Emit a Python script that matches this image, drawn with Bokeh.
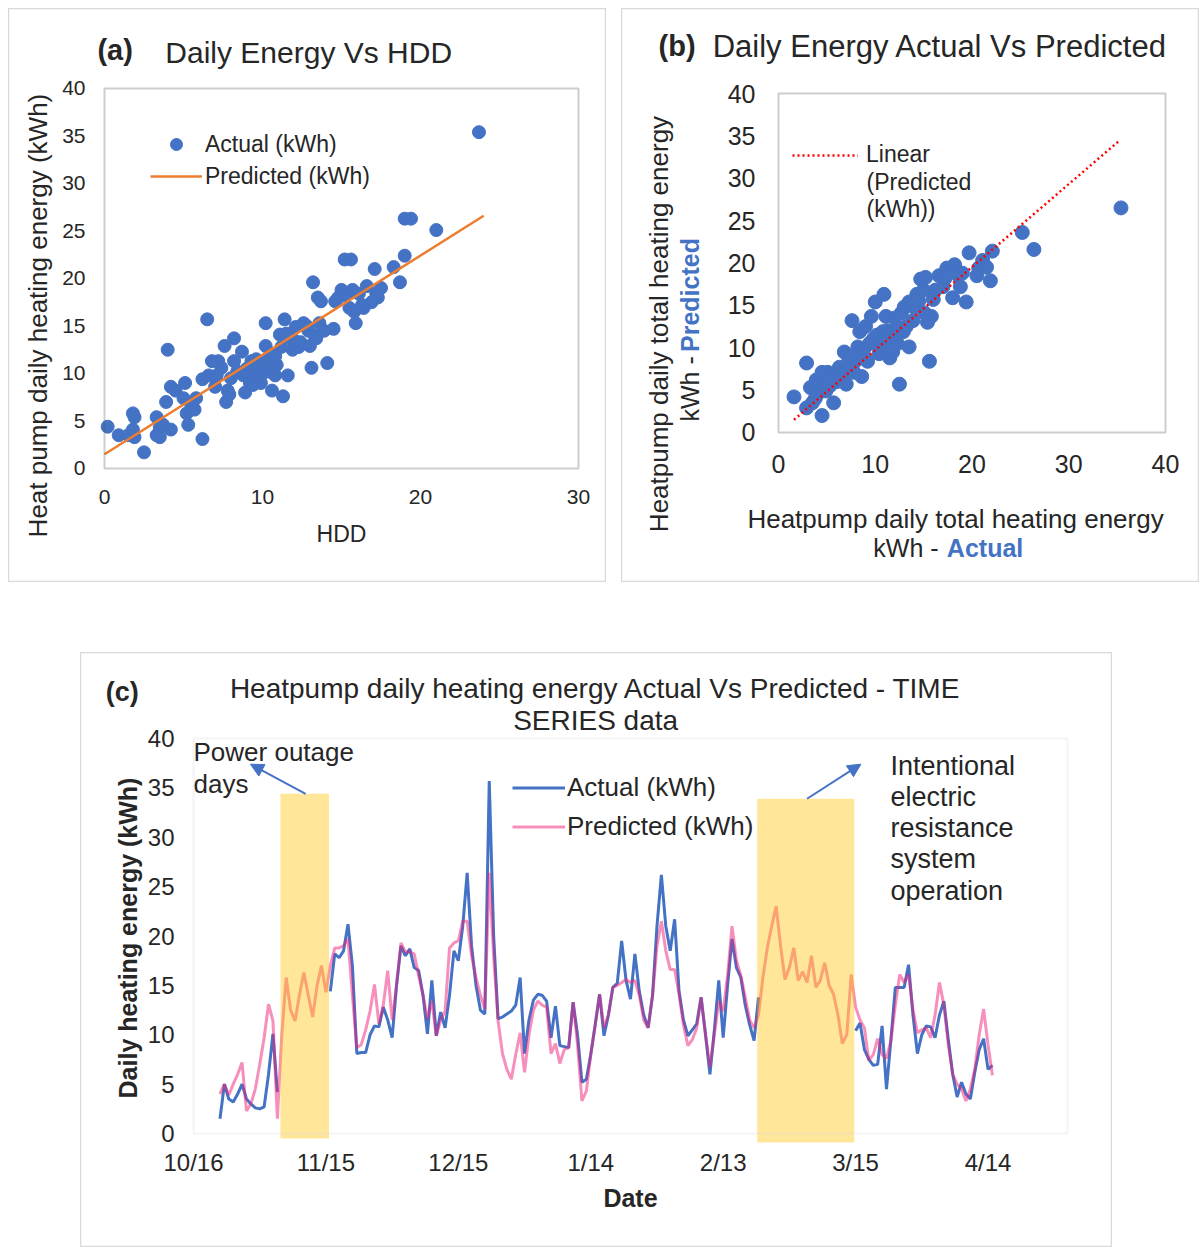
import numpy as np
import pandas as pd
from bokeh.plotting import figure
from bokeh.models import (Label, Legend, LegendItem, FixedTicker, Range1d, LinearAxis,
                          Arrow, NormalHead, Spacer, BoxAnnotation)
from bokeh.layouts import row, column
from bokeh.embed import file_html
from bokeh.resources import INLINE

FONT = "Liberation Sans"
BLUE = "#4472C4"
ORANGE = "#ED7D31"
PINK = "#F0207A"
TXT = "#262626"

# ---- (a) daily energy vs HDD ----
hdd = [0.2, 0.9, 1.5, 1.8, 1.9, 1.8, 1.9, 2.5, 3.3, 3.3,
       3.5, 3.5, 3.7, 3.9, 4.0, 4.2, 4.2, 4.5, 5.1, 5.0,
       5.2, 5.3, 5.5, 5.7, 5.8, 6.2, 6.2, 6.5, 6.6, 6.8,
       7.0, 7.1, 7.2, 7.4, 7.6, 7.7, 7.8, 7.9, 8.2, 8.2,
       8.4, 8.7, 8.8, 8.9, 9.2, 9.3, 9.5, 9.7, 9.9, 10.2,
       10.2, 10.3, 10.4, 10.5, 10.6, 10.8, 10.9, 11.1, 11.3, 11.4,
       11.6, 11.8, 11.9, 12.1, 12.4, 12.6, 12.9, 13.0, 13.1, 13.2,
       13.4, 13.5, 13.6, 13.7, 13.9, 14.1, 14.5, 14.6, 14.8, 15.0,
       15.2, 15.6, 15.5, 15.7, 15.8, 15.9, 16.1, 16.4, 16.6, 17.1,
       17.2, 17.3, 18.3, 18.7, 19.0, 19.0, 19.4, 21.0, 23.7,
       9.0, 9.6, 10.0, 10.8, 11.2, 12.0, 12.3, 8.0, 9.4, 13.3,
       16.9, 16.3, 15.3, 17.5, 11.5, 12.8]
energy_actual = [4.4, 3.5, 3.5, 4.1, 3.3, 5.8, 5.4, 1.7, 5.4, 3.5,
                 4.3, 3.3, 4.6, 7.0, 12.5, 4.1, 8.6, 8.2, 9.0, 7.4,
                 5.8, 4.6, 6.6, 6.2, 7.4, 9.4, 3.1, 15.7, 9.8, 11.3,
                 8.6, 9.8, 11.3, 10.6, 12.9, 7.0, 8.2, 7.8, 13.7, 11.3,
                 10.2, 12.3, 9.8, 8.0, 9.0, 11.3, 9.8, 10.6, 9.0, 15.3,
                 12.9, 11.3, 10.2, 12.1, 8.2, 9.8, 10.9, 14.1, 7.6, 15.7,
                 9.8, 13.7, 12.5, 14.9, 13.3, 15.3, 14.5, 12.9, 10.6, 19.6,
                 13.7, 18.0, 15.3, 17.6, 14.5, 11.1, 14.7, 17.6, 18.0, 18.8,
                 22.0, 22.0, 16.9, 18.8, 16.5, 15.3, 18.4, 16.9, 19.2, 21.0,
                 18.4, 18.0, 21.2, 19.6, 22.4, 26.3, 26.3, 25.1, 35.4,
                 10.5, 11.5, 10.0, 11.8, 12.8, 13.5, 12.8, 9.5, 8.8, 14.0,
                 17.5, 17.2, 18.2, 19.0, 14.2, 15.0]
hdd_fit = [0.0, 24.0]
energy_fit = [1.5, 26.6]

# ---- (b) actual vs predicted ----
act_b = [1.6, 2.9, 2.9, 3.3, 3.5, 3.9, 4.5, 4.5, 4.9, 5.1,
         5.7, 5.9, 6.3, 6.8, 7.0, 7.6, 7.8, 8.2, 8.4, 8.6,
         9.2, 9.6, 9.8, 10.0, 10.4, 10.8, 10.9, 11.1, 11.5, 11.7,
         12.1, 12.5, 12.7, 12.9, 13.5, 13.5, 13.9, 14.3, 14.7, 15.1,
         15.2, 15.6, 15.8, 16.0, 16.6, 17.0, 17.4, 18.0, 18.2, 18.6,
         18.8, 19.4, 19.7, 20.7, 21.1, 21.9, 22.1, 25.2, 26.4, 35.4,
         4.0, 5.3, 6.0, 7.3, 8.0, 8.8, 9.4, 10.2, 10.6, 11.3,
         12.0, 12.3, 13.0, 13.2, 14.0, 14.5, 15.0, 15.4, 16.2, 17.2,
         17.8, 19.0, 11.8, 9.0, 7.2, 6.5, 3.8, 4.3, 20.5, 21.5]
pred_b = [4.2, 8.2, 2.9, 5.3, 3.5, 6.2, 2.0, 7.1, 4.9, 7.1,
          3.5, 6.6, 7.7, 9.5, 5.7, 13.2, 7.1, 10.1, 11.9, 6.6,
          8.4, 13.7, 11.0, 15.4, 9.3, 11.9, 16.3, 13.7, 8.8, 11.0,
          12.3, 5.7, 14.1, 11.9, 10.1, 15.4, 13.2, 16.3, 18.1, 14.1,
          18.3, 8.4, 13.7, 15.7, 18.5, 17.2, 19.4, 15.9, 19.8, 18.5,
          17.2, 15.4, 21.2, 19.4, 20.3, 17.9, 21.4, 23.6, 21.6, 26.5,
          4.5, 5.5, 6.0, 7.5, 8.5, 9.8, 10.5, 11.5, 10.2, 12.0,
          13.5, 10.5, 14.8, 12.5, 14.8, 15.5, 16.8, 13.0, 16.8, 18.2,
          19.0, 18.8, 9.5, 12.5, 9.0, 6.8, 4.0, 5.8, 18.5, 19.5]
act_fit = [1.6, 35.2]
pred_fit = [1.5, 34.4]

# ---- (c) time series, one value per day from 2018-10-22 ----
nan = np.nan
actual = [1.5, 5.0, 3.5, 3.2, 4.0, 5.0, 3.5, 3.0, 2.6, 2.5,
          2.7, 6.0, 10.1, 4.2, nan, nan, nan, nan, nan, nan,
          nan, nan, nan, nan, nan, 14.4, 18.2, 17.8, 18.5, 21.2,
          17.0, 8.1, 8.2, 8.2, 10.0, 10.9, 10.8, 12.8, 11.5, 9.7,
          15.0, 19.0, 18.0, 18.7, 16.8, 16.5, 14.0, 10.1, 15.5, 9.9,
          12.3, 10.7, 14.0, 18.5, 17.5, 21.0, 26.4, 19.0, 15.0, 12.5,
          12.1, 35.7, 20.0, 11.6, 11.8, 12.1, 12.4, 13.0, 15.8, 8.1,
          11.5, 13.5, 14.1, 14.0, 13.4, 9.7, 12.9, 8.9, 8.8, 8.7,
          13.3, 10.0, 5.2, 5.5, 8.0, 11.0, 14.1, 9.9, 12.0, 14.8,
          15.2, 19.5, 15.5, 13.6, 18.2, 14.4, 12.0, 10.7, 14.0, 21.0,
          26.2, 21.0, 18.5, 21.7, 14.4, 11.5, 9.9, 10.5, 11.1, 13.8,
          10.0, 6.0, 10.5, 15.5, 9.7, 15.0, 19.7, 16.8, 15.8, 13.0,
          11.0, 9.4, 13.8, nan, nan, nan, nan, nan, nan, nan,
          nan, nan, nan, nan, nan, nan, nan, nan, nan, nan,
          nan, nan, nan, nan, 10.4, 11.2, 8.5, 7.5, 6.9, 7.0,
          10.9, 4.5, 9.5, 14.8, 14.8, 14.8, 17.1, 12.0, 8.1, 10.0,
          10.9, 10.8, 9.7, 12.0, 13.4, 9.5, 6.0, 3.7, 5.2, 4.0,
          3.5, 6.2, 8.5, 9.6, 6.5, 6.9]
predicted = [4.0, 5.0, 3.9, 5.0, 6.0, 7.2, 2.3, 3.0, 4.5, 7.0,
             9.7, 13.1, 11.4, 1.5, 10.0, 15.8, 12.5, 11.4, 14.0, 16.3,
             14.0, 11.8, 15.0, 17.0, 14.3, 17.0, 18.8, 18.8, 19.0, 19.7,
             14.0, 8.7, 9.0, 10.5, 12.4, 15.1, 11.1, 13.0, 16.5, 11.5,
             15.0, 19.3, 18.4, 18.4, 18.2, 16.0, 14.0, 11.6, 13.4, 9.9,
             11.5, 12.4, 18.8, 19.3, 19.5, 21.5, 21.5, 18.0, 15.8, 14.0,
             12.6, 26.4, 18.0, 11.4, 8.1, 6.5, 5.5, 8.0, 10.2, 6.2,
             10.0, 12.5, 13.4, 13.0, 12.8, 8.1, 9.1, 7.1, 8.5, 8.7,
             13.3, 9.0, 3.3, 4.3, 8.0, 11.0, 14.1, 10.7, 12.0, 14.8,
             15.0, 15.3, 15.6, 15.3, 15.5, 14.0, 11.5, 10.7, 14.0, 19.0,
             21.5, 18.5, 16.6, 16.6, 14.1, 11.0, 8.9, 9.5, 10.7, 13.8,
             10.0, 6.7, 10.0, 13.4, 12.4, 16.0, 21.0, 17.5, 16.0, 13.8,
             11.5, 10.7, 12.0, 15.8, 18.8, 21.0, 23.0, 19.0, 15.6, 16.8,
             18.8, 15.5, 16.4, 15.3, 18.0, 14.8, 15.5, 17.3, 15.0, 14.1,
             12.0, 9.1, 10.0, 16.1, 12.8, 11.5, 10.7, 7.4, 8.0, 9.6,
             8.0, 7.6, 9.4, 13.0, 16.1, 15.3, 16.1, 12.5, 10.2, 10.5,
             10.7, 9.7, 12.0, 15.3, 13.0, 9.0, 6.0, 5.0, 4.5, 3.3,
             4.5, 6.5, 10.0, 12.6, 9.0, 5.9]
tick_dates = ["2018-10-16", "2018-11-15", "2018-12-15", "2019-01-14",
              "2019-02-13", "2019-03-15", "2019-04-14"]
shade_start = ["2018-11-05", "2019-02-21"]
shade_end = ["2018-11-15", "2019-03-14"]
shade_top = [34.4, 33.9]
shade_bottom = [-0.5, -0.9]

origin = pd.Timestamp("2018-10-16")
dates = pd.date_range("2018-10-22", periods=len(actual), freq="D")
day = np.asarray((dates - origin).days, dtype=float)
tick_ts = pd.to_datetime(tick_dates)
tick_days = [int((t - origin).days) for t in tick_ts]
tick_labels = {d: f"{t.month}/{t.day}" for d, t in zip(tick_days, tick_ts)}
s0 = [(pd.Timestamp(s) - origin).days - 0.3 for s in shade_start]
s1 = [(pd.Timestamp(s) - origin).days + 0.7 for s in shade_end]


def panel(w, h, xr, yr):
    # the frame covers the whole panel; axes sit at fixed data locations inside it
    p = figure(width=w, height=h, x_range=Range1d(*xr), y_range=Range1d(*yr),
               min_border=0, title=None, x_axis_location=None, y_axis_location=None,
               output_backend="svg", toolbar_location=None)
    p.grid.visible = False
    p.outline_line_color = "#D9D9D9"
    p.outline_line_width = 1.5
    return p


def axes(p, xticks, yticks, size, standoff_x, standoff_y, overrides=None):
    xa = LinearAxis(fixed_location=0, ticker=FixedTicker(ticks=xticks))
    ya = LinearAxis(fixed_location=0, ticker=FixedTicker(ticks=yticks))
    if overrides:
        xa.major_label_overrides = overrides
    for ax in (xa, ya):
        ax.axis_line_color = None
        ax.major_tick_line_color = None
        ax.minor_tick_line_color = None
        ax.major_label_text_font = FONT
        ax.major_label_text_font_size = size
        ax.major_label_text_color = TXT
    xa.major_label_standoff = standoff_x
    ya.major_label_standoff = standoff_y
    p.add_layout(xa, "below")
    p.add_layout(ya, "left")


def txt(p, x, y, s, size, bold=False, color=TXT, angle=0, align="left"):
    p.add_layout(Label(x=x, y=y, text=s, text_font=FONT,
                       text_font_size=f"{size}px",
                       text_font_style="bold" if bold else "normal",
                       text_color=color, angle=angle, text_align=align,
                       text_baseline="middle"))


# ---------------- (a) ----------------
pa = panel(598, 574, (-6.076, 31.772), (-12.0, 48.421))
axes(pa, [0, 10, 20, 30], list(range(0, 41, 5)), "21px", 16, 13)
pa.add_layout(BoxAnnotation(left=0, right=30, bottom=0, top=40, fill_alpha=0,
                            line_color="#595959", line_width=2))
ra = pa.scatter(hdd, energy_actual, size=13, fill_color=BLUE, line_color=BLUE)
rl = pa.line(hdd_fit, energy_fit, line_color=ORANGE, line_width=2.5)
pa.add_layout(Legend(items=[LegendItem(label="Actual (kWh)", renderers=[ra]),
                            LegendItem(label="Predicted (kWh)", renderers=[rl])],
                     location=(142, 391), glyph_width=52, glyph_height=30,
                     label_height=30, spacing=2, padding=0, margin=0,
                     label_standoff=3, border_line_color=None,
                     background_fill_alpha=0, label_text_font=FONT,
                     label_text_font_size="23px", label_text_color=TXT))
txt(pa, -0.45, 44.0, "(a)", 29, bold=True)
txt(pa, 3.85, 43.8, "Daily Energy Vs HDD", 30)
txt(pa, -4.2, 16.1, "Heat pump daily heating energy (kWh)", 26, angle=np.pi / 2,
    align="center")
txt(pa, 15.0, -6.85, "HDD", 23, align="center")

# ---------------- (b) ----------------
pb = panel(578, 574, (-16.227, 43.514), (-17.70, 50.03))
axes(pb, [0, 10, 20, 30, 40], list(range(0, 41, 5)), "25px", 17, 17)
pb.add_layout(BoxAnnotation(left=0, right=40, bottom=0, top=40, fill_alpha=0,
                            line_color="#595959", line_width=2))
pb.scatter(act_b, pred_b, size=14, fill_color=BLUE, line_color=BLUE)
rf = pb.line(act_fit, pred_fit, line_color="#FF0000", line_width=2.5,
             line_dash="2 3")
pb.add_layout(Legend(items=[LegendItem(label="Linear", renderers=[rf])],
                     location=(171, 414), glyph_width=66, glyph_height=26,
                     label_height=26, padding=0, margin=0, label_standoff=8,
                     border_line_color=None, background_fill_alpha=0,
                     label_text_font=FONT, label_text_font_size="23px",
                     label_text_color=TXT))
txt(pb, 9.1, 29.6, "(Predicted", 23)
txt(pb, 9.1, 26.4, "(kWh))", 23)
txt(pb, -12.4, 45.6, "(b)", 29, bold=True)
txt(pb, -6.8, 45.6, "Daily Energy Actual Vs Predicted", 31)
txt(pb, -12.3, 12.8, "Heatpump daily total heating energy", 26, angle=np.pi / 2,
    align="center")
txt(pb, -9.1, 1.3, "kWh -", 25, angle=np.pi / 2)
txt(pb, -9.1, 9.5, "Predicted", 25, bold=True, color=BLUE, angle=np.pi / 2)
txt(pb, 18.3, -10.15, "Heatpump daily total heating energy", 26, align="center")
txt(pb, 9.8, -13.6, "kWh -", 25)
txt(pb, 17.4, -13.6, "Actual", 25, bold=True, color=BLUE)

# ---------------- (c) ----------------
pc = panel(1032, 595, (-25.60, 208.20), (-11.54, 48.71))
axes(pc, tick_days, list(range(0, 41, 5)), "24px", 9, 13, overrides=tick_labels)
pc.add_layout(BoxAnnotation(left=0, right=198, bottom=0, top=40, fill_alpha=0,
                            line_color="#D9D9D9", line_width=2))
r_act = pc.line(day, actual, line_color=BLUE, line_width=3)
r_pred = pc.line(day, predicted, line_color=PINK, line_width=3, line_alpha=0.5)
pc.quad(left=s0, right=s1, bottom=shade_bottom, top=shade_top, fill_color="#FFC000",
        fill_alpha=0.4, line_color=None)
pc.add_layout(Legend(items=[LegendItem(label="Actual (kWh)", renderers=[r_act]),
                            LegendItem(label="Predicted (kWh)", renderers=[r_pred])],
                     location=(432, 402), glyph_width=53, glyph_height=37,
                     label_height=37, spacing=2, padding=0, margin=0,
                     label_standoff=2, border_line_color=None,
                     background_fill_alpha=0, label_text_font=FONT,
                     label_text_font_size="26px", label_text_color=TXT))
for xs, ys, xe, ye in [(25.4, 34.4, 12.9, 37.4), (139.0, 33.9, 151.2, 37.4)]:
    pc.add_layout(Arrow(x_start=xs, y_start=ys, x_end=xe, y_end=ye,
                        line_color=BLUE, line_width=2,
                        end=NormalHead(size=13, fill_color=BLUE, line_color=BLUE)))
txt(pc, 0.0, 38.6, "Power outage", 26)
txt(pc, 0.0, 35.4, "days", 26)
for i, s in enumerate(["Intentional", "electric", "resistance", "system",
                       "operation"]):
    txt(pc, 157.9, 37.2 - 3.15 * i, s, 27)
txt(pc, -19.9, 44.7, "(c)", 27, bold=True)
txt(pc, 91.1, 45.1, "Heatpump daily heating energy Actual Vs Predicted - TIME", 28,
    align="center")
txt(pc, 91.1, 41.8, "SERIES data", 28, align="center")
txt(pc, -14.9, 19.8, "Daily heating energy (kWh)", 25, bold=True,
    angle=np.pi / 2, align="center")
txt(pc, 99.0, -6.5, "Date", 25, bold=True, align="center")

page = column(Spacer(width=10, height=8),
              row(Spacer(width=8, height=10), pa, Spacer(width=15, height=10), pb),
              Spacer(width=10, height=70),
              row(Spacer(width=80, height=10), pc))
open("out.html", "w").write(file_html(page, INLINE))
